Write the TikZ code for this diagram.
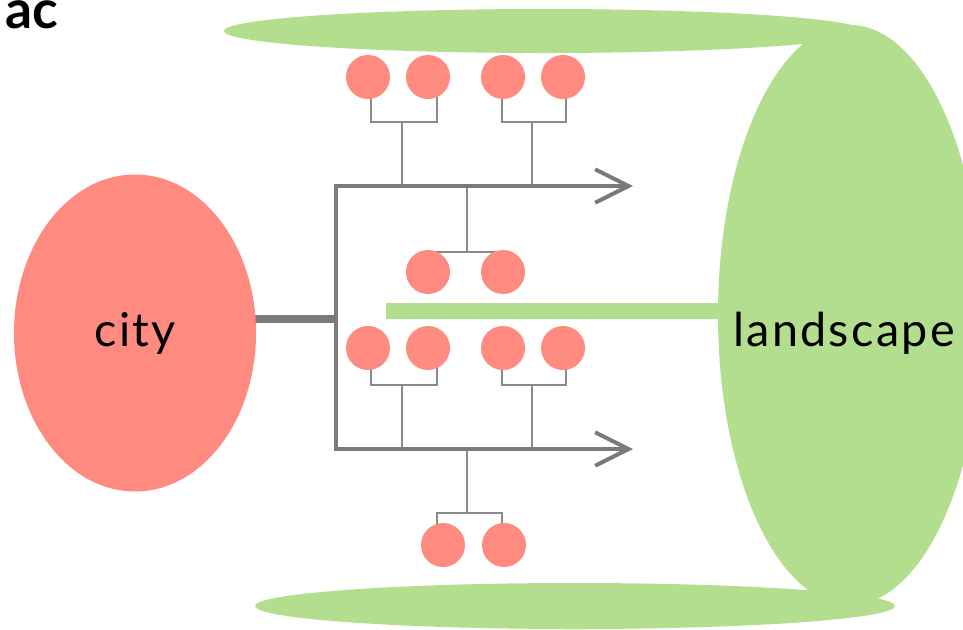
\documentclass[tikz,border=0pt]{standalone}
\usepackage{fontspec}
\setmainfont{Lato}
\usetikzlibrary{arrows.meta}
\usetikzlibrary{shapes.geometric}
\usetikzlibrary{backgrounds}

\definecolor{cityred}{HTML}{FF8A80}
\definecolor{landgreen}{HTML}{B3DE8E}
\definecolor{trunkgray}{HTML}{7A7A7A}
\definecolor{twiggray}{HTML}{8A8A8A}

\begin{document}
\begin{tikzpicture}[x=0.75pt,y=-0.75pt,
    blob/.style={ellipse,inner sep=0pt},
    ball/.style={circle,fill=cityred,minimum size=33pt,inner sep=0pt},
    trunk/.style={trunkgray,line width=3pt},
    twig/.style={twiggray,line width=2pt},
    word/.style={font=\fontsize{35}{42}\selectfont\addfontfeatures{LetterSpace=5}}]
    
    % frame of the picture
    \useasboundingbox (0,0) rectangle (963,629);
    \clip (0,0) rectangle (963,629);
    
    \node[anchor=base west,font=\bfseries\fontsize{40}{48}\selectfont] (tag) at (1,28) {ac};
    
    % green rims of the landscape
    \fill[landgreen] (544,31) ellipse [x radius=320, y radius=22];
    \fill[landgreen] (575,606) ellipse [x radius=320, y radius=23];
    \node[blob,fill=landgreen,minimum width=198pt,minimum height=435pt] (landscape) at (850,315) {};
    \node[word] (landtext) at (844,333) {landscape};
    
    % the city
    \node[blob,fill=cityred,minimum width=181.5pt,minimum height=237.75pt,word] (city) at (135,333) {city};
    
    % trunk and its two arrows
    \coordinate (sptop) at (336,186);
    \coordinate (spmid) at (336,319);
    \coordinate (spbot) at (336,449);
    \coordinate (topend) at (633,186);
    \coordinate (botend) at (633,449);
    \draw[trunk,{Straight Barb[length=25pt,width=25pt]}-{Straight Barb[length=25pt,width=25pt]}]
        (topend) -- (sptop) -- (spbot) -- (botend);
    
    % green bar into the landscape
    \coordinate (barstart) at (386,311);
    \draw[landgreen,line width=12pt] (barstart) -- (barstart -| landscape.west);
    
    % the balls
    \foreach \n/\x in {t1/368,t2/428,t3/503,t4/563}
        \node[ball] (\n) at (\x,77) {};
    \foreach \n/\x in {u1/428,u2/503}
        \node[ball] (\n) at (\x,272) {};
    \foreach \n/\x in {m1/368,m2/428,m3/503,m4/563}
        \node[ball] (\n) at (\x,348) {};
    \foreach \n/\x in {b1/443,b2/504}
        \node[ball] (\n) at (\x,545) {};
    
    % joints of the twigs
    \coordinate (tj1) at (402,122);
    \coordinate (tj2) at (532,122);
    \coordinate (uj) at (467,252);
    \coordinate (mj1) at (402,385);
    \coordinate (mj2) at (532,385);
    \coordinate (bj) at (467,513);
    
    \begin{scope}[on background layer]
        % link from the city
        \draw[trunkgray,line width=6pt] (city.center |- spmid) -- (spmid);
        
        % twigs
        \draw[twig] ([xshift=2.25pt]t1.center) |- (tj1) -| ([xshift=6.75pt]t2.center);
        \draw[twig] ([xshift=-0.75pt]t3.center) |- (tj2) -| ([xshift=2.25pt]t4.center);
        \draw[twig] ([xshift=6.75pt]u1.center) |- (uj) -| ([xshift=-3pt]u2.center);
        \draw[twig] ([xshift=2.25pt]m1.center) |- (mj1) -| ([xshift=6.75pt]m2.center);
        \draw[twig] ([xshift=-0.75pt]m3.center) |- (mj2) -| ([xshift=2.25pt]m4.center);
        \draw[twig] ([xshift=-4.5pt]b1.center) |- (bj) -| ([xshift=-1.5pt]b2.center);
        
        % stems down to the trunk
        \draw[twig] (tj1) -- (tj1 |- sptop);
        \draw[twig] (tj2) -- (tj2 |- sptop);
        \draw[twig] (uj) -- (uj |- sptop);
        \draw[twig] (mj1) -- (mj1 |- spbot);
        \draw[twig] (mj2) -- (mj2 |- spbot);
        \draw[twig] (bj) -- (bj |- spbot);
    \end{scope}
    
\end{tikzpicture}
\end{document}
